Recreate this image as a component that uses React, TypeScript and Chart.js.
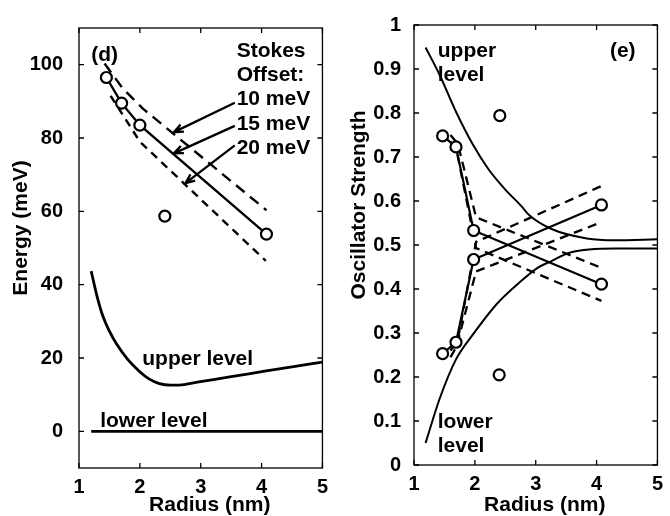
import React, { useEffect, useRef } from "react";
import { Chart, registerables } from "chart.js";
Chart.register(...registerables);

const FONT = '"Liberation Sans", Arial, Helvetica, sans-serif';

// ---------- Panel (d): Energy vs Radius ----------
const radiusTicks = [1, 2, 3, 4, 5];
const energyTicks = [0, 20, 40, 60, 80, 100];

const measRadiusD = [1.45, 1.7, 2.0, 2.41, 4.08];
const measEnergyD = [96.5, 89.5, 83.5, 58.7, 53.8];

const fit15Radius = [1.45, 1.7, 2.0, 4.08];
const fit15Energy = [96.5, 89.5, 83.5, 53.8];
const fit10Radius = [1.42, 1.72, 2.05, 4.08];
const fit10Energy = [100.3, 93.5, 88.0, 60.3];
const fit20Radius = [1.52, 1.75, 2.0, 4.07];
const fit20Energy = [91.5, 85.5, 79.0, 46.5];

const upperRadiusD = [1.2, 1.3, 1.39, 1.5, 1.61, 1.8, 1.99, 2.15, 2.32, 2.5, 2.64, 2.97, 3.5, 4.05, 4.5, 5.0];
const upperEnergyD = [43.7, 36.6, 31.5, 27.3, 24.0, 19.6, 16.4, 14.3, 13.0, 12.6, 12.6, 13.5, 14.9, 16.4, 17.6, 18.9];
const lowerRadiusD = [1.2, 5.0];
const lowerEnergyD = [0, 0];

// ---------- Panel (e): Oscillator strength vs Radius ----------
const strengthTicks = [0, 0.1, 0.2, 0.3, 0.4, 0.5, 0.6, 0.7, 0.8, 0.9, 1];

const measRadiusE = [1.47, 1.69, 1.98, 2.41, 4.08, 1.47, 1.69, 1.98, 2.4, 4.08];
const measStrengthE = [0.748, 0.723, 0.533, 0.794, 0.411, 0.253, 0.279, 0.467, 0.205, 0.591];

const fallSolidRadius = [1.47, 1.69, 1.98, 4.08];
const fallSolidStrength = [0.748, 0.723, 0.533, 0.411];
const riseSolidRadius = [1.47, 1.69, 1.98, 4.08];
const riseSolidStrength = [0.253, 0.279, 0.467, 0.591];

const fallDashARadius = [1.6, 1.72, 2.02, 4.08];
const fallDashAStrength = [0.75, 0.73, 0.563, 0.448];
const fallDashBRadius = [1.6, 1.7, 2.02, 4.08];
const fallDashBStrength = [0.735, 0.715, 0.493, 0.373];
const riseDashARadius = [1.6, 1.72, 2.02, 4.08];
const riseDashAStrength = [0.26, 0.285, 0.507, 0.634];
const riseDashBRadius = [1.6, 1.7, 2.02, 4.08];
const riseDashBStrength = [0.245, 0.27, 0.44, 0.552];

const upperRadiusE = [1.19, 1.42, 1.7, 1.96, 2.23, 2.5, 2.76, 2.9, 3.25, 3.84, 4.3, 5.0];
const upperStrengthE = [0.949, 0.887, 0.8, 0.73, 0.671, 0.626, 0.589, 0.567, 0.537, 0.515, 0.511, 0.513];
const lowerRadiusE = [1.19, 1.42, 1.69, 1.96, 2.36, 2.76, 3.03, 3.25, 3.57, 4.3, 5.0];
const lowerStrengthE = [0.05, 0.15, 0.24, 0.295, 0.366, 0.418, 0.448, 0.463, 0.483, 0.492, 0.492];

// ---------- annotations (data coordinates) ----------
const textsD = [
  { text: "(d)", x: 1.42, y: 102.5, align: "center" },
  { text: "Stokes", x: 3.59, y: 103.8, align: "left" },
  { text: "Offset:", x: 3.59, y: 97.1, align: "left" },
  { text: "10 meV", x: 3.59, y: 90.5, align: "left" },
  { text: "15 meV", x: 3.59, y: 83.8, align: "left" },
  { text: "20 meV", x: 3.59, y: 77.1, align: "left" },
  { text: "upper level", x: 2.95, y: 19.6, align: "center" },
  { text: "lower level", x: 2.23, y: 2.7, align: "center" },
];
const arrowsD = [
  { x1: 3.56, y1: 89.6, x2: 2.56, y2: 81.6 },
  { x1: 3.56, y1: 83.3, x2: 2.56, y2: 75.8 },
  { x1: 3.56, y1: 78.0, x2: 2.75, y2: 67.7 },
];
const textsE = [
  { text: "upper", x: 1.39, y: 0.94, align: "left" },
  { text: "level", x: 1.39, y: 0.887, align: "left" },
  { text: "(e)", x: 4.43, y: 0.94, align: "center" },
  { text: "lower", x: 1.39, y: 0.098, align: "left" },
  { text: "level", x: 1.39, y: 0.042, align: "left" },
];

const pts = (xs: number[], ys: number[]) => xs.map((x, i) => ({ x, y: ys[i] }));

function makeDecor(cfg: {
  xTicks: number[]; yTicks: number[]; texts: any[]; arrows: any[];
  xTitle: string; yTitle: string; yTitleX: number; yTitleY: number;
}) {
  return {
    id: "decor",
    afterDatasetsDraw(chart: any) {
      const { ctx, chartArea: a } = chart;
      const xs = chart.scales.x;
      const ys = chart.scales.y;
      ctx.save();
      ctx.strokeStyle = "#000";
      ctx.lineWidth = 1.3;
      ctx.strokeRect(a.left, a.top, a.right - a.left, a.bottom - a.top);
      const L = 5;
      ctx.beginPath();
      for (const v of cfg.xTicks) {
        const p = xs.getPixelForValue(v);
        ctx.moveTo(p, a.bottom);
        ctx.lineTo(p, a.bottom - L);
        ctx.moveTo(p, a.top);
        ctx.lineTo(p, a.top + L);
      }
      for (const v of cfg.yTicks) {
        const p = ys.getPixelForValue(v);
        ctx.moveTo(a.left, p);
        ctx.lineTo(a.left + L, p);
        ctx.moveTo(a.right, p);
        ctx.lineTo(a.right - L, p);
      }
      ctx.stroke();
      ctx.fillStyle = "#000";
      ctx.font = `bold 21px ${FONT}`;
      ctx.textBaseline = "middle";
      for (const t of cfg.texts) {
        ctx.textAlign = t.align;
        ctx.fillText(t.text, xs.getPixelForValue(t.x), ys.getPixelForValue(t.y));
      }
      ctx.lineWidth = 2.3;
      for (const ar of cfg.arrows) {
        const x1 = xs.getPixelForValue(ar.x1), y1 = ys.getPixelForValue(ar.y1);
        const x2 = xs.getPixelForValue(ar.x2), y2 = ys.getPixelForValue(ar.y2);
        const ang = Math.atan2(y2 - y1, x2 - x1);
        const h = 10;
        ctx.beginPath();
        ctx.moveTo(x1, y1);
        ctx.lineTo(x2, y2);
        ctx.moveTo(x2 - h * Math.cos(ang - 0.4), y2 - h * Math.sin(ang - 0.4));
        ctx.lineTo(x2, y2);
        ctx.lineTo(x2 - h * Math.cos(ang + 0.4), y2 - h * Math.sin(ang + 0.4));
        ctx.stroke();
      }
      // axis titles
      ctx.font = `bold 21px ${FONT}`;
      ctx.textAlign = "center";
      ctx.textBaseline = "middle";
      ctx.fillText(cfg.xTitle, (a.left + a.right) / 2 + 9, 505);
      ctx.save();
      ctx.translate(cfg.yTitleX, cfg.yTitleY);
      ctx.rotate(-Math.PI / 2);
      ctx.fillText(cfg.yTitle, 0, 0);
      ctx.restore();
      ctx.restore();
    },
  };
}

function lineDs(xs: number[], ys: number[], dash: number[] = [], width = 2, tension = 0) {
  return {
    data: pts(xs, ys),
    showLine: true,
    borderColor: "#000",
    borderWidth: width,
    borderDash: dash,
    pointRadius: 0,
    tension,
    cubicInterpolationMode: tension ? "monotone" : "default",
  };
}

function circleDs(xs: number[], ys: number[]) {
  return {
    data: pts(xs, ys),
    showLine: false,
    pointStyle: "circle",
    pointRadius: 5.5,
    pointBorderWidth: 2.2,
    pointBorderColor: "#000",
    pointBackgroundColor: "#fff",
  };
}

function makeOptions(p: {
  xTicks: number[]; yTicks: number[]; yMin: number; yMax: number;
  top: number; right: number; xHeight: number; yTickPad: number;
}) {
  const tickFont = { family: FONT, size: 20, weight: "bold" as const };
  return {
    animation: false,
    responsive: false,
    devicePixelRatio: 1,
    layout: { padding: { top: p.top, right: p.right, left: 0, bottom: 0 } },
    plugins: { legend: { display: false }, tooltip: { enabled: false } },
    scales: {
      x: {
        type: "linear",
        min: 1,
        max: 5,
        afterBuildTicks: (s: any) => { s.ticks = p.xTicks.map((v) => ({ value: v })); },
        afterFit: (s: any) => { s.height = p.xHeight; },
        grid: { display: false, drawTicks: false },
        border: { display: false },
        ticks: { color: "#000", font: tickFont, padding: 7, maxRotation: 0, autoSkip: false, callback: (v: any) => String(v) },
      },
      y: {
        type: "linear",
        min: p.yMin,
        max: p.yMax,
        afterBuildTicks: (s: any) => { s.ticks = p.yTicks.map((v) => ({ value: v })); },
        afterFit: (s: any) => { s.width = 79; },
        grid: { display: false, drawTicks: false },
        border: { display: false },
        ticks: { color: "#000", font: tickFont, padding: p.yTickPad, autoSkip: false, callback: (v: any) => String(v) },
      },
    },
  };
}

export default function App() {
  const leftRef = useRef<HTMLCanvasElement>(null);
  const rightRef = useRef<HTMLCanvasElement>(null);

  useEffect(() => {
    const left = new Chart(leftRef.current as HTMLCanvasElement, {
      type: "scatter",
      data: {
        datasets: [
          circleDs(measRadiusD, measEnergyD),
          lineDs(fit15Radius, fit15Energy, [], 2.4),
          lineDs(fit10Radius, fit10Energy, [11, 7], 2.4),
          lineDs(fit20Radius, fit20Energy, [8, 6], 2.4),
          lineDs(upperRadiusD, upperEnergyD, [], 2.8, 0.4),
          lineDs(lowerRadiusD, lowerEnergyD, [], 2.6),
        ] as any,
      },
      options: makeOptions({
        xTicks: radiusTicks, yTicks: energyTicks, yMin: -10, yMax: 110,
        top: 18, right: 10, xHeight: 48, yTickPad: 16,
      }) as any,
      plugins: [makeDecor({
        xTicks: radiusTicks, yTicks: energyTicks, texts: textsD, arrows: arrowsD,
        xTitle: "Radius (nm)", yTitle: "Energy (meV)", yTitleX: 21, yTitleY: 228,
      })],
    });

    const right = new Chart(rightRef.current as HTMLCanvasElement, {
      type: "scatter",
      data: {
        datasets: [
          circleDs(measRadiusE, measStrengthE),
          lineDs(fallSolidRadius, fallSolidStrength, [], 2.2),
          lineDs(riseSolidRadius, riseSolidStrength, [], 2.2),
          lineDs(fallDashARadius, fallDashAStrength, [9, 6], 2.3),
          lineDs(fallDashBRadius, fallDashBStrength, [9, 6], 2.3),
          lineDs(riseDashARadius, riseDashAStrength, [9, 6], 2.3),
          lineDs(riseDashBRadius, riseDashBStrength, [9, 6], 2.3),
          lineDs(upperRadiusE, upperStrengthE, [], 2, 0.4),
          lineDs(lowerRadiusE, lowerStrengthE, [], 2, 0.4),
        ] as any,
      },
      options: makeOptions({
        xTicks: radiusTicks, yTicks: strengthTicks, yMin: 0, yMax: 1,
        top: 17, right: 8, xHeight: 51, yTickPad: 13,
      }) as any,
      plugins: [makeDecor({
        xTicks: radiusTicks, yTicks: strengthTicks, texts: textsE, arrows: [],
        xTitle: "Radius (nm)", yTitle: "Oscillator Strength", yTitleX: 24, yTitleY: 205,
      })],
    });

    return () => {
      left.destroy();
      right.destroy();
    };
  }, []);

  return (
    <div style={{ position: "fixed", left: 0, top: 0, width: 670, height: 516, background: "#fff" }}>
      <canvas ref={leftRef} width={335} height={516} style={{ position: "absolute", left: 0, top: 0, width: 335, height: 516 }} />
      <canvas ref={rightRef} width={335} height={516} style={{ position: "absolute", left: 335, top: 0, width: 335, height: 516 }} />
    </div>
  );
}
